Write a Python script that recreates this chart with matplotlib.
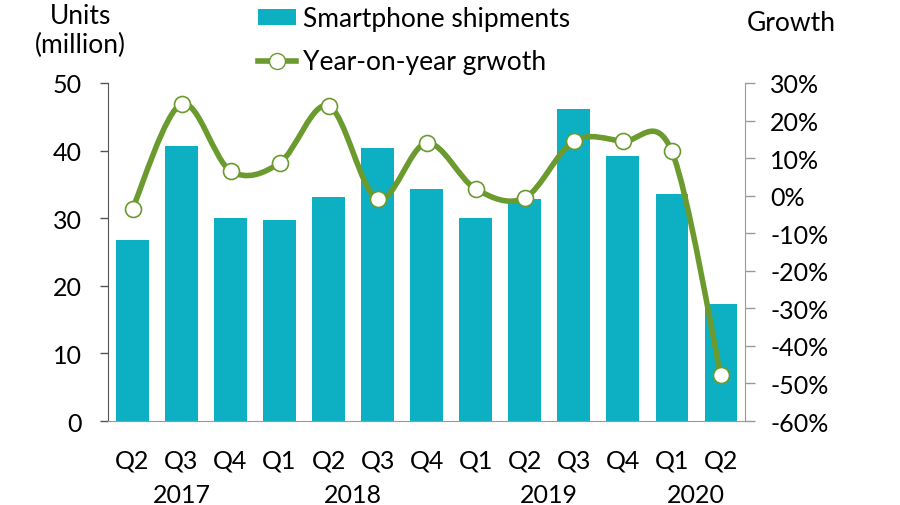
import matplotlib.pyplot as plt
import numpy as np
from matplotlib.path import Path
from matplotlib.patches import PathPatch, Patch
from matplotlib.lines import Line2D

quarters = ["Q2", "Q3", "Q4", "Q1", "Q2", "Q3", "Q4", "Q1", "Q2", "Q3", "Q4", "Q1", "Q2"]
years = ["2017", "2018", "2019", "2020"]
year_spans = [(0, 2), (3, 6), (7, 10), (11, 12)]
shipments = [26.8, 40.7, 30.0, 29.7, 33.1, 40.4, 34.3, 30.0, 32.8, 46.2, 39.2, 33.6, 17.3]
growth = [-3.5, 24.4, 6.6, 8.7, 23.9, -0.9, 14.0, 1.8, -0.6, 14.5, 14.5, 11.9, -47.7]

teal = "#0DB0C3"
green = "#6B9A2F"
fs = 18

plt.rcParams["font.family"] = ["Lato", "DejaVu Sans"]
plt.rcParams["font.size"] = fs

fig = plt.figure(figsize=(9, 5.06), dpi=100)
ax = fig.add_axes([0.12, 0.166, 0.708, 0.668])
ax2 = ax.twinx()

x = np.arange(len(quarters))
ax.bar(x, shipments, width=0.66, color=teal, zorder=2)
ax.set_xlim(-0.5, len(quarters) - 0.5)
ax.set_ylim(0, 50)
ax.set_yticks(range(0, 51, 10))
ax.set_xticks(x)
ax.set_xticklabels(quarters)
ax.tick_params(axis="x", length=0, pad=20, labelsize=fs)
ax.tick_params(axis="y", length=6, width=1, color="#555555", pad=13, labelsize=fs)

# smoothed line (Catmull-Rom -> cubic bezier through the points)
pts = np.column_stack([x, growth]).astype(float)
verts = [pts[0]]
codes = [Path.MOVETO]
for i in range(len(pts) - 1):
    p0 = pts[max(i - 1, 0)]
    p1 = pts[i]
    p2 = pts[i + 1]
    p3 = pts[min(i + 2, len(pts) - 1)]
    c1 = p1 + (p2 - p0) / 6
    c2 = p2 - (p3 - p1) / 6
    verts += [c1, c2, p2]
    codes += [Path.CURVE4] * 3
ax2.add_patch(PathPatch(Path(verts, codes), facecolor="none", edgecolor=green,
                        lw=4, capstyle="round", zorder=3))
ax2.plot(x, growth, linestyle="none", marker="o", markersize=11.5,
         markerfacecolor="white", markeredgecolor=green, markeredgewidth=1.2, zorder=4)
ax2.set_ylim(-60, 30)
ax2.set_yticks(range(-60, 31, 10))
ax2.set_yticklabels([f"{v}%" for v in range(-60, 31, 10)])
ax2.tick_params(axis="y", length=7, width=1, color="#999999", pad=11, labelsize=fs)

for a in (ax, ax2):
    a.spines["top"].set_visible(False)
ax.spines["right"].set_visible(False)
ax2.spines["left"].set_visible(False)
ax2.spines["bottom"].set_visible(False)
ax.spines["left"].set_color("#555555")
ax.spines["bottom"].set_color("#999999")
ax2.spines["right"].set_color("#999999")

# year labels below quarters
for yr, (s, e) in zip(years, year_spans):
    ax.text((s + e) / 2, -0.183, yr, transform=ax.get_xaxis_transform(),
            ha="center", va="top", fontsize=fs)

fig.text(0.089, 0.938, "Units\n(million)", ha="center", va="center", fontsize=19,
         linespacing=1.2)
fig.text(0.879, 0.953, "Growth", ha="center", va="center", fontsize=19)

handles = [Patch(facecolor=teal, edgecolor="none"),
           Line2D([], [], color=green, lw=4, marker="o", markersize=11.5,
                  markerfacecolor="white", markeredgecolor=green)]
fig.legend(handles, ["Smartphone shipments", "Year-on-year grwoth"],
           loc="upper left", bbox_to_anchor=(0.275, 1.007), frameon=False,
           fontsize=19, handlelength=1.45, handletextpad=0.25, labelspacing=0.7,
           handleheight=0.55, borderaxespad=0)

fig.savefig("out.png", dpi=100)
